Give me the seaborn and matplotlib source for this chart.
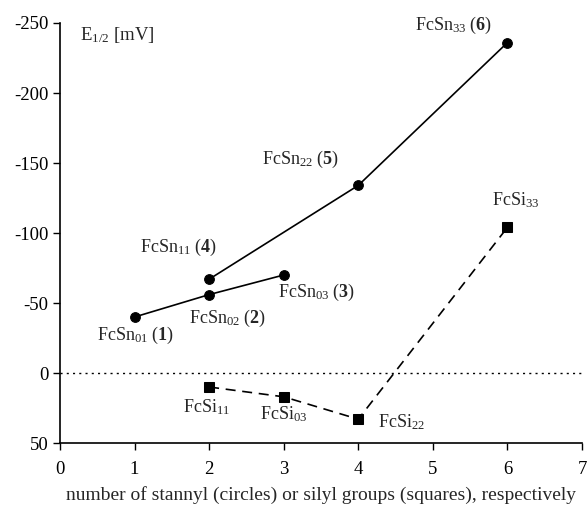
import matplotlib
matplotlib.use("Agg")
import matplotlib.pyplot as plt
import seaborn as sns
import pandas as pd

# data
sn_a_x = [1, 2, 3]
sn_a_y = [-40, -56, -70]
sn_a_labels = [r"FcSn$_{01}$ ($\mathbf{1}$)", r"FcSn$_{02}$ ($\mathbf{2}$)", r"FcSn$_{03}$ ($\mathbf{3}$)"]

sn_b_x = [2, 4, 6]
sn_b_y = [-67, -134, -236]
sn_b_labels = [r"FcSn$_{11}$ ($\mathbf{4}$)", r"FcSn$_{22}$ ($\mathbf{5}$)", r"FcSn$_{33}$ ($\mathbf{6}$)"]

si_x = [2, 3, 4, 6]
si_y = [10, 17, 33, -104]
si_labels = [r"FcSi$_{11}$", r"FcSi$_{03}$", r"FcSi$_{22}$", r"FcSi$_{33}$"]

x_ticks = [0, 1, 2, 3, 4, 5, 6, 7]
y_ticks = [-250, -200, -150, -100, -50, 0, 50]

sns.set_style("ticks")
plt.rcParams["font.family"] = ["Liberation Serif", "DejaVu Serif"]
plt.rcParams["mathtext.fontset"] = "custom"
plt.rcParams["mathtext.rm"] = "Liberation Serif"
plt.rcParams["mathtext.it"] = "Liberation Serif:italic"
plt.rcParams["mathtext.bf"] = "Liberation Serif:bold"
plt.rcParams["axes.unicode_minus"] = False

fig = plt.figure(figsize=(5.88, 5.08), dpi=100)
ax = fig.add_axes([60/588, 1-443/508, 522/588, 420/508])

df_a = pd.DataFrame({"x": sn_a_x, "y": sn_a_y})
df_b = pd.DataFrame({"x": sn_b_x, "y": sn_b_y})
df_si = pd.DataFrame({"x": si_x, "y": si_y})

ax.axhline(0, color="black", linestyle=(0, (1.5, 3)), linewidth=1.0, zorder=1)

sns.lineplot(data=df_a, x="x", y="y", ax=ax, color="black", marker="o",
             markersize=7, linewidth=1.2, markeredgecolor="black", sort=False)
sns.lineplot(data=df_b, x="x", y="y", ax=ax, color="black", marker="o",
             markersize=7, linewidth=1.2, markeredgecolor="black", sort=False)
sns.lineplot(data=df_si, x="x", y="y", ax=ax, color="black", marker="s",
             markersize=6.5, linewidth=1.2, linestyle=(0, (6, 4)),
             markeredgecolor="black", sort=False)

fs = 13
offs_a = [(1, -18), (18, -24), (33, -17)]
offs_b = [(-31, 32), (-58, 26), (-54, 17)]
offs_si = [(-3, -20), (0, -17), (43, -3), (8, 27)]
for xs, ys, labs, offs in [(sn_a_x, sn_a_y, sn_a_labels, offs_a),
                           (sn_b_x, sn_b_y, sn_b_labels, offs_b),
                           (si_x, si_y, si_labels, offs_si)]:
    for xv, yv, lab, off in zip(xs, ys, labs, offs):
        ax.annotate(lab, (xv, yv), xytext=off, textcoords="offset pixels",
                    ha="center", va="center", fontsize=fs)

ax.set_xlim(0, 7)
ax.set_ylim(50, -250)
ax.set_xticks(x_ticks)
ax.set_yticks(y_ticks)
ax.tick_params(direction="out", length=5, width=1, labelsize=13.5, colors="black")
ax.tick_params(axis="x", pad=8)
for s in ["top", "right"]:
    ax.spines[s].set_visible(False)
for s in ["left", "bottom"]:
    ax.spines[s].set_linewidth(1.2)
    ax.spines[s].set_color("black")
ax.set_xlabel("number of stannyl (circles) or silyl groups (squares), respectively",
              fontsize=14, labelpad=6)
ax.set_ylabel("")
ax.text(80/588, 1-35/508, r"E$_{1/2}$ [mV]", transform=fig.transFigure,
        fontsize=13.5, ha="left", va="center")

fig.savefig("out.png", dpi=100)
